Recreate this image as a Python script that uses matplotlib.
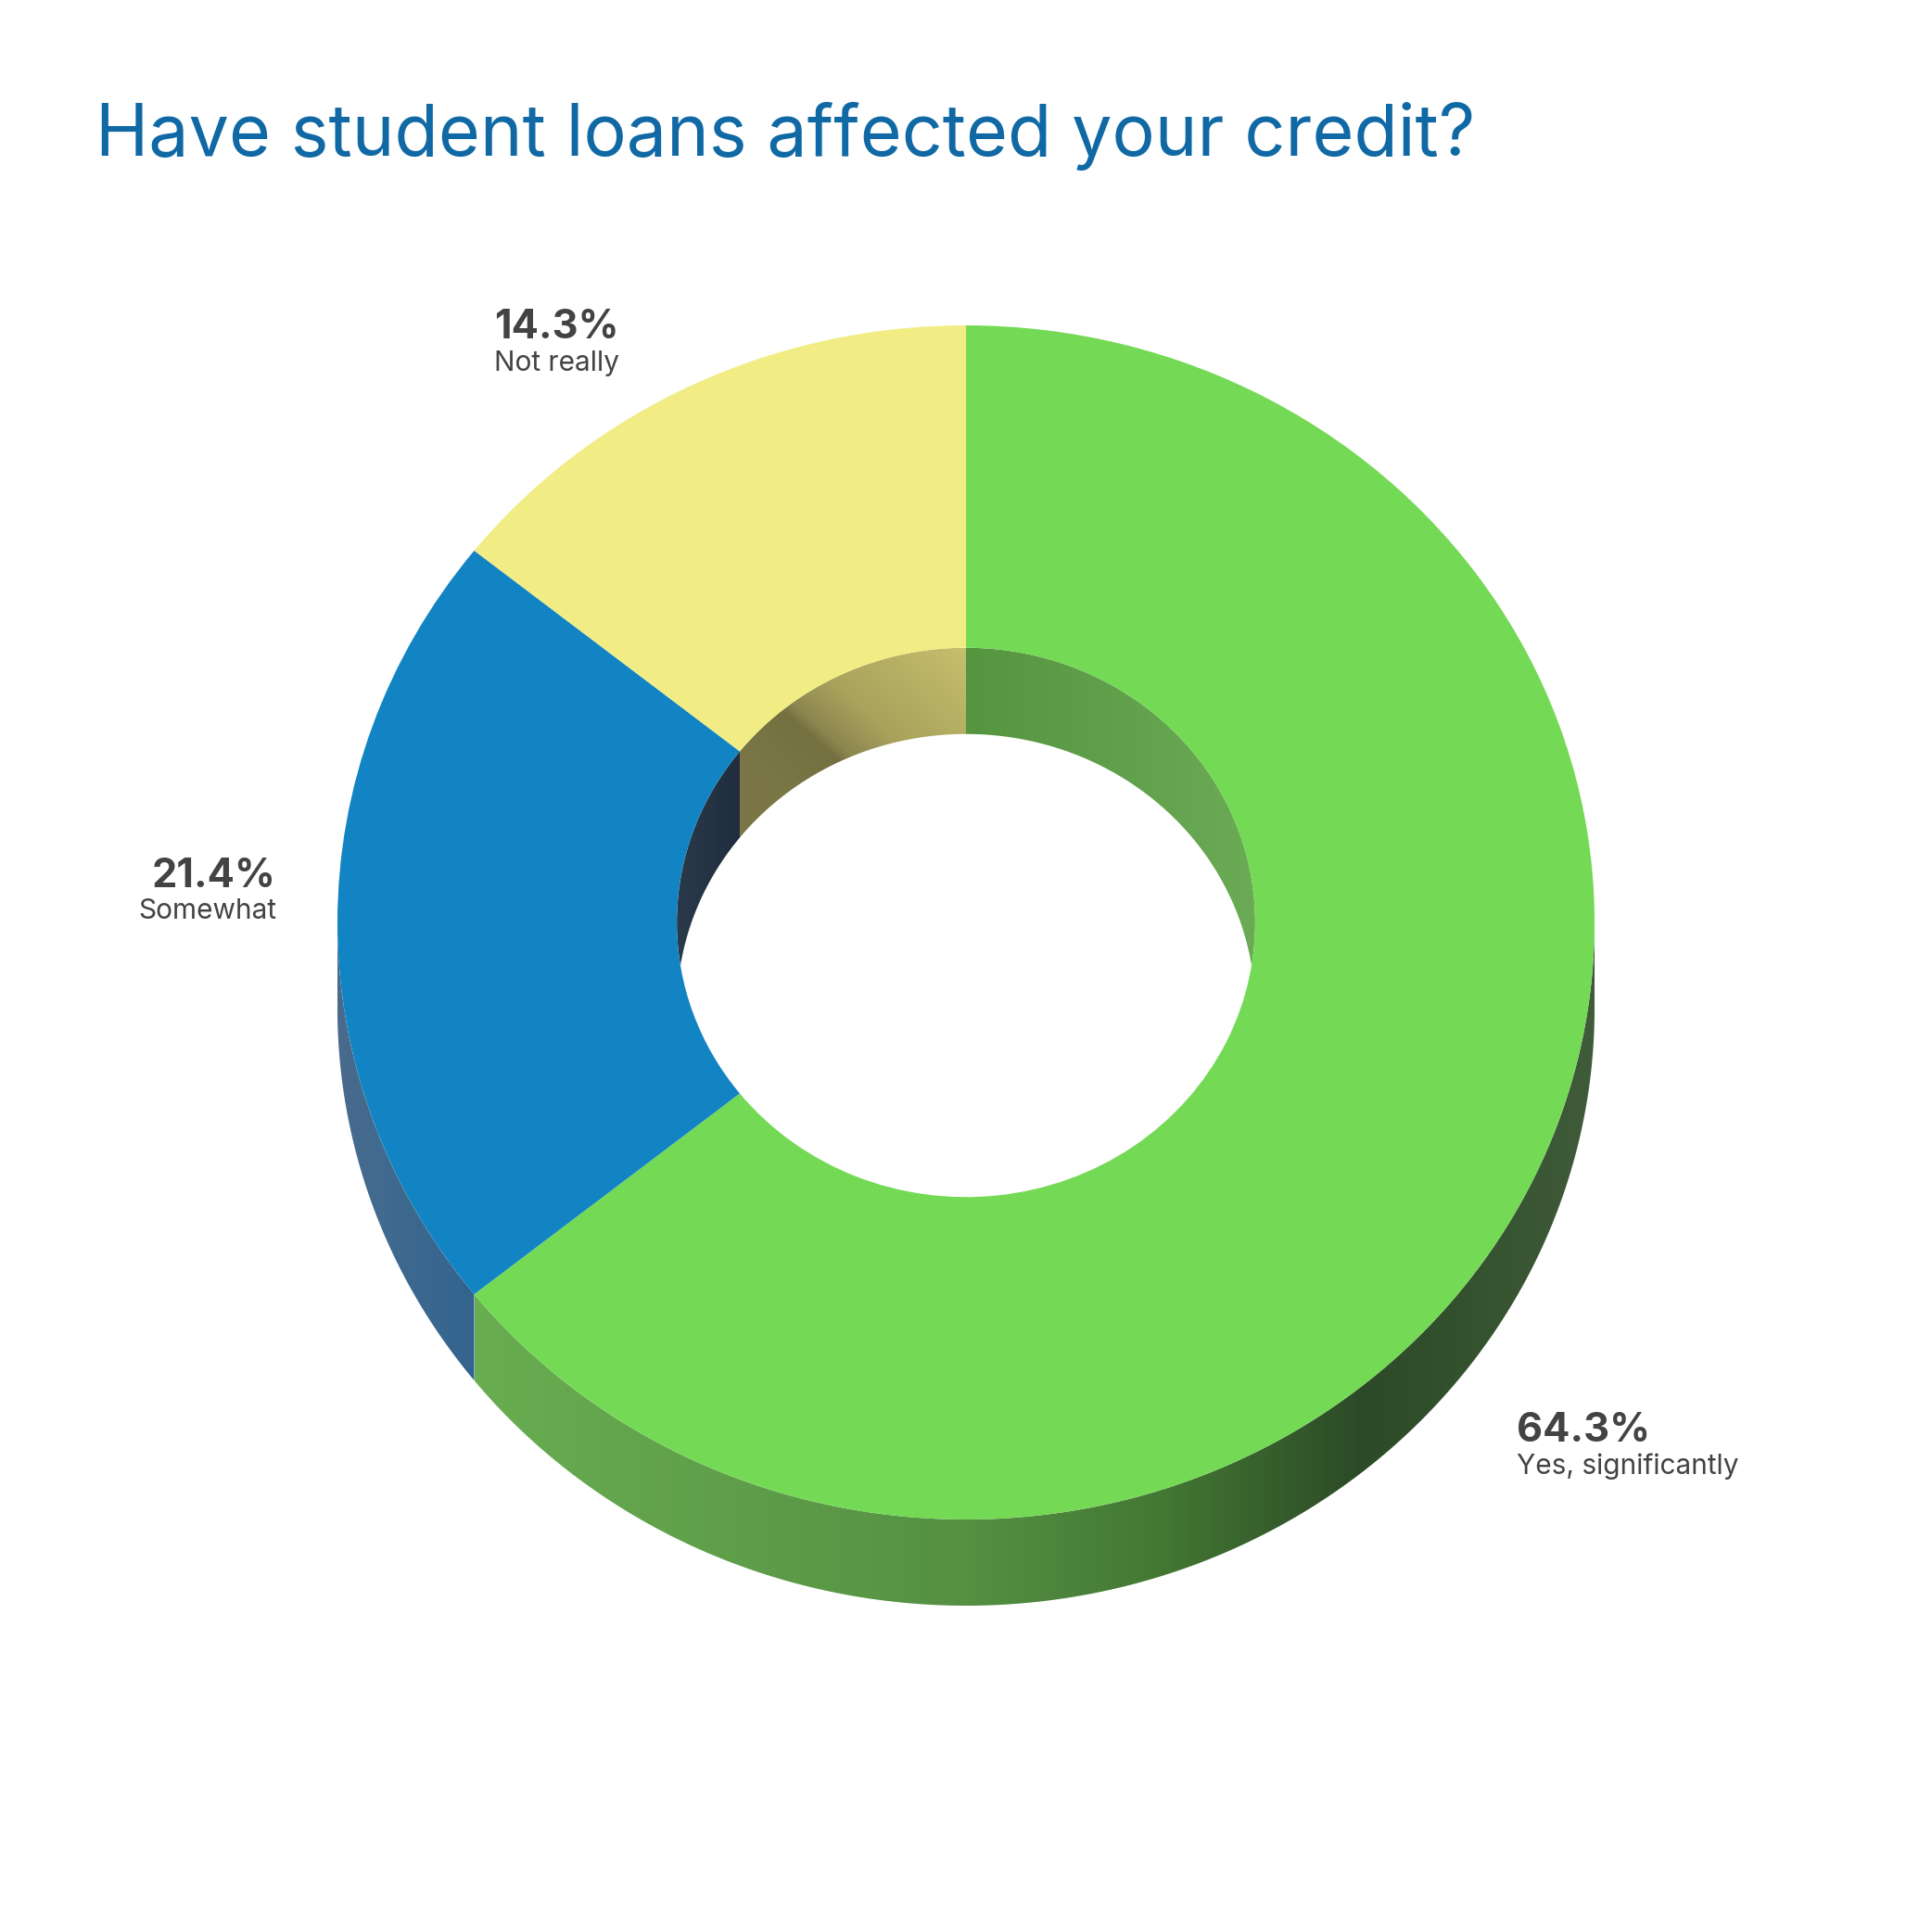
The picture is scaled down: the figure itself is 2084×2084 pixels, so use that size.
import numpy as np
import matplotlib
matplotlib.use("Agg")
import matplotlib.pyplot as plt
from matplotlib.colors import LinearSegmentedColormap
from matplotlib.patches import Polygon

categories = ["Yes, significantly", "Somewhat", "Not really"]
shares = [64.3, 21.4, 14.3]
face_colors = ["#74d955", "#1284c3", "#f1ed84"]

title = "Have student loans affected your credit?"

# picture geometry, pixels of the 2084 image
W = 2084
CX, CY = 1042, 995
RX, RY = 678, 644
DEPTH = 93 / RY
HOLE = 0.46

# (position along gradient direction, colour), then direction in degrees
green_outer = [(-0.80, "#69ae51"), (0.0, "#559043"), (0.31, "#437833"), (0.63, "#2c4a27"), (1.0, "#3f5b39")]
blue_outer = [(-1.0, "#4a6a8c"), (-0.95, "#436b8e"), (-0.78, "#32648f")]
green_inner = [(0.0, "#55953f"), (0.46, "#6bab55")]
yellow_inner = [(-0.04, "#7b7646"), (0.06, "#74703f"), (0.08, "#8c8650"), (0.148, "#a8a25c"), (0.336, "#c6bf6c")]
blue_inner = [(-0.46, "#2b3a4a"), (-0.36, "#1f2d3f")]

fig = plt.figure(figsize=(W / 100, W / 100), dpi=100, facecolor="white")
ax = fig.add_axes([0, 0, 1, 1])

edges = 90 - 360 * np.cumsum([0] + shares) / sum(shares)

ax.pie(shares, colors=face_colors, startangle=90, counterclock=False, radius=1,
       wedgeprops=dict(width=1 - HOLE, linewidth=0, zorder=5))


def arc(t1, t2, r, dy=0.0):
    t = np.radians(np.linspace(t1, t2, 200))
    return np.column_stack([r * np.cos(t), r * np.sin(t) - dy])


def shade(points, stops, angle=0):
    # gradient image clipped by the wall polygon
    poly = Polygon(points, closed=True, facecolor="none", linewidth=0)
    ax.add_patch(poly)
    x0, x1 = points[:, 0].min(), points[:, 0].max()
    y0, y1 = points[:, 1].min(), points[:, 1].max()
    X, Y = np.meshgrid(np.linspace(x0, x1, 600), np.linspace(y0, y1, 400))
    a = np.radians(angle)
    pos = X * np.cos(a) + Y * np.sin(a)
    lo, hi = stops[0][0], stops[-1][0]
    cmap = LinearSegmentedColormap.from_list("s", [((p - lo) / (hi - lo), c) for p, c in stops])
    im = ax.imshow(cmap((pos - lo) / (hi - lo)), extent=(x0, x1, y0, y1), origin="lower",
                   aspect="auto", interpolation="bilinear", zorder=2)
    im.set_clip_path(poly)


# outer wall, only the lower half can be seen
seam = edges[1]
shade(np.vstack([arc(-180, seam, 1.0), arc(seam, -180, 1.0, DEPTH)]), blue_outer)
shade(np.vstack([arc(seam, 0, 1.0), arc(0, seam, 1.0, DEPTH)]), green_outer)

# inner wall, from the top rim of the hole down to where the two rims cross
tc = np.degrees(np.arcsin(DEPTH / 2 / HOLE))
left_seam = edges[2] + 360
shade(np.vstack([arc(90, -tc, HOLE), arc(tc, 90, HOLE, DEPTH)]), green_inner)
shade(np.vstack([arc(left_seam, 90, HOLE), arc(90, left_seam, HOLE, DEPTH)]), yellow_inner, 47)
shade(np.vstack([arc(left_seam, 180 + tc, HOLE), arc(180 - tc, left_seam, HOLE, DEPTH)]), blue_inner)

ax.set_aspect("auto")
ax.set_xlim(-CX / RX, (W - CX) / RX)
ax.set_ylim(-(W - CY) / RY, CY / RY)


def px(x, y):
    return (x - CX) / RX, (CY - y) / RY


FONT = ["Inter", "DejaVu Sans"]
label_pos = [(1636, 1555, 1590, "left"), (298, 957, 991, "right"), (668, 365, 400, "right")]
for name, v, (x, y1, y2, ha) in zip(categories, shares, label_pos):
    ax.text(*px(x, y1), f"{v}%", ha=ha, va="baseline", fontsize=31.2, fontweight="bold",
            color="#434343", family=FONT)
    ax.text(*px(x, y2), name, ha=ha, va="baseline", fontsize=21.5, color="#434343", family=FONT)

ax.text(*px(103, 168), title, ha="left", va="baseline", fontsize=55.6, color="#1069a4", family=FONT)

fig.savefig("out.png", dpi=100)
